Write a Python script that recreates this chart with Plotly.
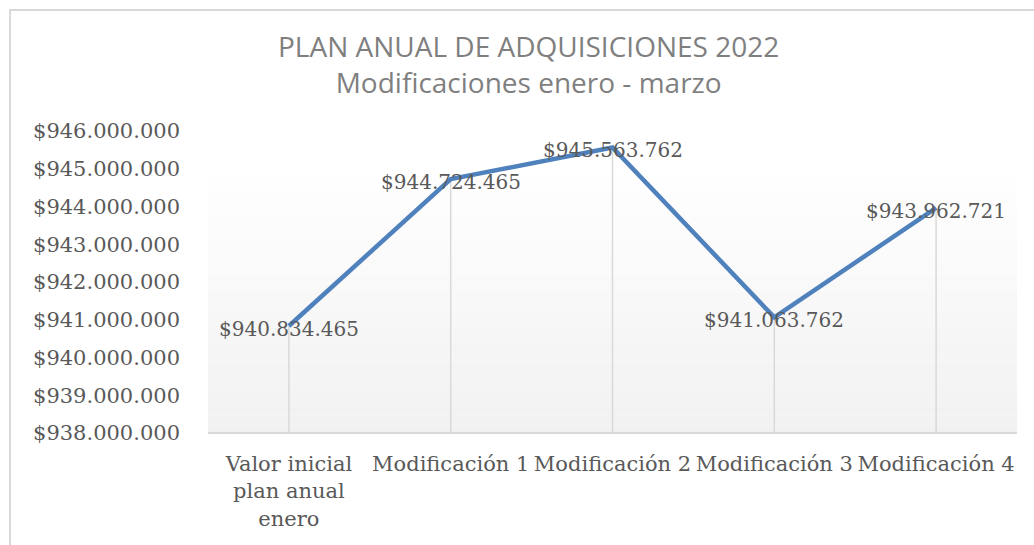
import plotly.graph_objects as go

categories = ["Valor inicial<br>plan anual<br>enero", "Modificación 1", "Modificación 2",
              "Modificación 3", "Modificación 4"]
values = [940834465, 944724465, 945563762, 941063762, 943962721]
tick_vals = [938000000, 939000000, 940000000, 941000000, 942000000,
             943000000, 944000000, 945000000, 946000000]
tick_text = ["$938.000.000", "$939.000.000", "$940.000.000", "$941.000.000", "$942.000.000",
             "$943.000.000", "$944.000.000", "$945.000.000", "$946.000.000"]
label_text = ["$940.834.465", "$944.724.465", "$945.563.762", "$941.063.762", "$943.962.721"]
title_lines = ["PLAN ANUAL DE ADQUISICIONES 2022", "Modificaciones enero - marzo"]

y_min, y_max = 938000000, 946000000

serif = "DejaVu Serif"

fig = go.Figure()

# drop lines from each point to the axis
fig.add_trace(go.Scatter(
    x=categories, y=values, mode="markers",
    marker=dict(size=0.1, color="rgba(0,0,0,0)"),
    error_y=dict(type="data", symmetric=False,
                 array=[0] * len(values),
                 arrayminus=[v - y_min for v in values],
                 color="#d9d9d9", thickness=1.5, width=0),
    hoverinfo="skip", showlegend=False,
))

fig.add_trace(go.Scatter(
    x=categories, y=values, mode="lines",
    line=dict(color="#4f81bd", width=4.5),
    showlegend=False,
))

# gradient background (plot area)
shapes = []
n = 30
top = (945000000 - y_min) / (y_max - y_min)
for i in range(n):
    y0 = top * i / n
    y1 = top * (i + 1) / n
    t = 1 - (i + 0.5) / n  # 1 at bottom
    g = int(round(255 - 14 * t))
    shapes.append(dict(type="rect", xref="paper", yref="paper", x0=0, x1=1, y0=y0, y1=y1,
                       fillcolor=f"rgb({g},{g},{g})", line=dict(width=0), layer="below"))
# chart border
shapes.append(dict(type="rect", xref="paper", yref="paper", x0=-0.2447, x1=1.05, y0=-0.5, y1=1.4007,
                   line=dict(color="#d9d9d9", width=2), fillcolor="rgba(0,0,0,0)", layer="below"))
# x axis line
shapes.append(dict(type="line", xref="paper", yref="paper", x0=0, x1=1, y0=0, y1=0,
                   line=dict(color="#d9d9d9", width=2)))

annotations = [
    dict(text="<br>".join(title_lines), xref="paper", yref="paper", x=0.396, y=1.222,
         xanchor="center", yanchor="middle", showarrow=False, align="center",
         font=dict(family="Open Sans", size=28, color="#7f7f7f")),
]
# data labels
for c, v, t in zip(categories, values, label_text):
    annotations.append(dict(x=c, y=v, xref="x", yref="y", text=t, showarrow=False,
                            xanchor="center", yanchor="middle", yshift=-3,
                            font=dict(family=serif, size=20, color="#595959")))

fig.update_layout(
    width=1034, height=545,
    margin=dict(l=208, r=17, t=131, b=112),
    paper_bgcolor="white", plot_bgcolor="white",
    shapes=shapes, annotations=annotations,
    xaxis=dict(type="category", range=[-0.5, 4.5], showgrid=False, showline=False,
               ticks="", ticklabelstandoff=16,
               tickfont=dict(family=serif, size=21, color="#595959"),
               fixedrange=True),
    yaxis=dict(range=[y_min, y_max], tickvals=tick_vals, ticktext=tick_text,
               showgrid=False, zeroline=False, showline=False, ticks="",
               ticklabelstandoff=27,
               tickfont=dict(family=serif, size=21, color="#595959")),
)

fig.write_html("out.html", config={"displayModeBar": False},
               post_script="document.body.style.margin='0px';")
